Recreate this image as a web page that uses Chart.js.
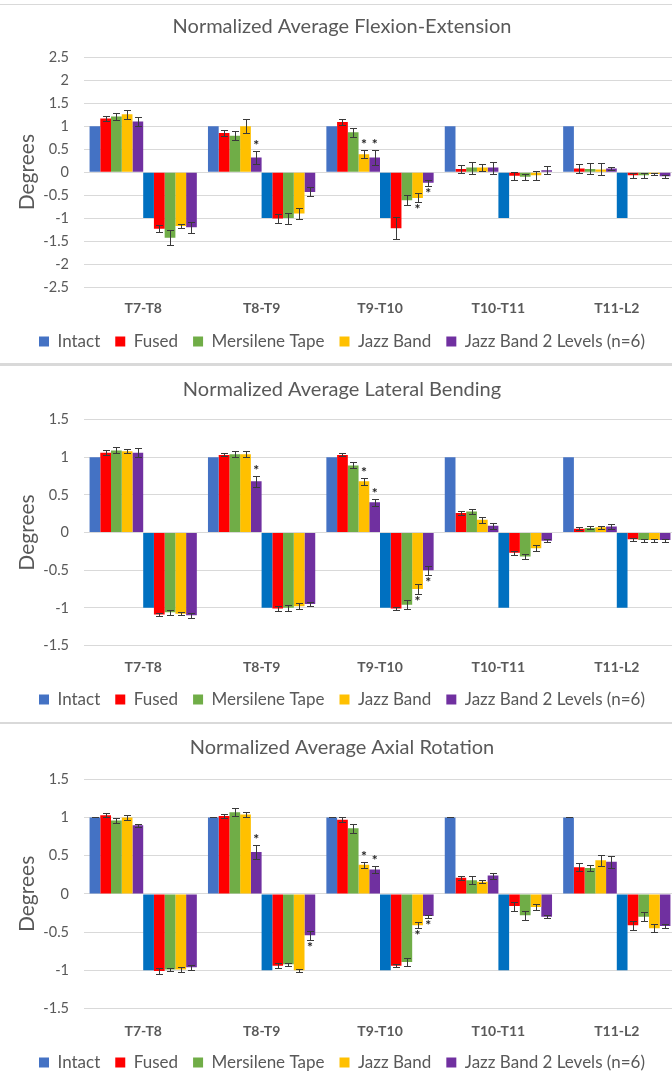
<!DOCTYPE html>
<html><head><meta charset="utf-8">
<script src="https://cdn.jsdelivr.net/npm/chart.js@4"></script>
<style>
html,body{margin:0;padding:0;background:#fff;overflow:hidden;width:672px;height:1074px;}
#wrap{position:relative;width:672px;height:1074px;overflow:hidden;background:#fff;}
canvas{position:absolute;left:0;}
.sep{position:absolute;left:0;width:672px;background:#d9d9d9;}
</style></head><body>
<div id="wrap">
<canvas id="c1" width="680" height="360" style="top:0px"></canvas>
<canvas id="c2" width="680" height="352" style="top:366px"></canvas>
<canvas id="c3" width="680" height="356" style="top:725px"></canvas>
<div class="sep" style="top:4px;height:1px"></div>
<div class="sep" style="top:363px;height:3px"></div>
<div class="sep" style="top:722px;height:2px"></div>
</div>
<script>
// ---------- data ----------
const categories = ['T7-T8', 'T8-T9', 'T9-T10', 'T10-T11', 'T11-L2'];
const seriesNames = ['Intact', 'Fused', 'Mersilene Tape', 'Jazz Band', 'Jazz Band 2 Levels (n=6)'];
const posColors = ['#4472C4', '#FF0000', '#70AD47', '#FFC000', '#7030A0'];
const negColors = ['#0070C0', '#FF0000', '#70AD47', '#FFC000', '#7030A0'];

// Flexion-Extension (rows = series, cols = categories)
const FE_POS = [
  [1, 1, 1, 1, 1],
  [1.17, 0.85, 1.09, 0.07, 0.08],
  [1.21, 0.79, 0.87, 0.10, 0.07],
  [1.26, 1.00, 0.39, 0.10, 0.06],
  [1.10, 0.32, 0.32, 0.10, 0.08]
];
const FE_POS_ERR = [
  [null, null, null, null, null],
  [0.06, 0.06, 0.07, 0.08, 0.09],
  [0.08, 0.10, 0.10, 0.13, 0.12],
  [0.10, 0.15, 0.09, 0.08, 0.13],
  [0.10, 0.14, 0.17, 0.13, 0.04]
];
const FE_NEG = [
  [-1, -1, -1, -1, -1],
  [-1.23, -1.01, -1.22, -0.08, -0.07],
  [-1.43, -1.00, -0.61, -0.10, -0.07],
  [-1.17, -0.90, -0.56, -0.07, -0.04],
  [-1.20, -0.43, -0.23, 0.04, -0.09]
];
const FE_NEG_ERR = [
  [null, null, null, null, null],
  [0.07, 0.10, 0.24, 0.08, 0.05],
  [0.16, 0.12, 0.11, 0.07, 0.05],
  [0.05, 0.13, 0.10, 0.10, 0.03],
  [0.12, 0.10, 0.07, 0.09, 0.03]
];
const FE_STARS = [[4, 1], [3, 2], [4, 2], [8, 2], [9, 2]];
const FE_TICKS = [-2.5, -2, -1.5, -1, -0.5, 0, 0.5, 1, 1.5, 2, 2.5];

// Lateral Bending
const LB_POS = [
  [1, 1, 1, 1, 1],
  [1.06, 1.03, 1.03, 0.26, 0.05],
  [1.09, 1.04, 0.89, 0.28, 0.06],
  [1.08, 1.04, 0.68, 0.17, 0.07],
  [1.06, 0.68, 0.40, 0.09, 0.08]
];
const LB_POS_ERR = [
  [null, null, null, null, null],
  [0.03, 0.02, 0.02, 0.03, 0.02],
  [0.04, 0.04, 0.04, 0.03, 0.02],
  [0.03, 0.04, 0.05, 0.04, 0.02],
  [0.06, 0.07, 0.05, 0.04, 0.03]
];
const LB_NEG = [
  [-1, -1, -1, -1, -1],
  [-1.09, -1.01, -1.01, -0.27, -0.09],
  [-1.06, -1.00, -0.96, -0.32, -0.10],
  [-1.08, -0.98, -0.75, -0.21, -0.10],
  [-1.10, -0.95, -0.50, -0.11, -0.10]
];
const LB_NEG_ERR = [
  [null, null, null, null, null],
  [0.02, 0.03, 0.02, 0.03, 0.02],
  [0.03, 0.04, 0.06, 0.03, 0.02],
  [0.02, 0.04, 0.07, 0.04, 0.02],
  [0.03, 0.03, 0.06, 0.02, 0.02]
];
const LB_STARS = [[4, 1], [3, 2], [4, 2], [8, 2], [9, 2]];
const LB_TICKS = [-1.5, -1, -0.5, 0, 0.5, 1, 1.5];

// Axial Rotation
const AR_POS = [
  [1, 1, 1, 1, 1],
  [1.03, 1.02, 0.97, 0.21, 0.35],
  [0.96, 1.07, 0.86, 0.18, 0.34],
  [1.00, 1.04, 0.38, 0.16, 0.44],
  [0.90, 0.55, 0.32, 0.24, 0.42]
];
const AR_POS_ERR = [
  [0, 0, 0, 0, 0],
  [0.03, 0.03, 0.03, 0.03, 0.05],
  [0.03, 0.05, 0.06, 0.05, 0.04],
  [0.03, 0.03, 0.04, 0.02, 0.07],
  [0.02, 0.09, 0.05, 0.04, 0.08]
];
const AR_NEG = [
  [-1, -1, -1, -1, -1],
  [-1.01, -0.94, -0.94, -0.16, -0.41],
  [-0.99, -0.92, -0.89, -0.28, -0.30],
  [-0.99, -1.00, -0.41, -0.17, -0.45],
  [-0.96, -0.54, -0.29, -0.30, -0.42]
];
const AR_NEG_ERR = [
  [null, null, null, null, null],
  [0.04, 0.03, 0.02, 0.06, 0.06],
  [0.02, 0.02, 0.05, 0.06, 0.06],
  [0.03, 0.02, 0.04, 0.04, 0.05],
  [0.03, 0.06, 0.02, 0.02, 0.03]
];
const AR_STARS = [[4, 1], [3, 2], [4, 2], [9, 1], [8, 2], [9, 2]];
const AR_TICKS = [-1.5, -1, -0.5, 0, 0.5, 1, 1.5];

// ---------- rendering ----------
const FONT = 'Lato';
const TXT = '#595959';

const errorBarPlugin = {
  id: 'errbars',
  afterDatasetsDraw(chart, args, opts) {
    const ctx = chart.ctx;
    const ys = chart.scales.y;
    ctx.save();
    ctx.strokeStyle = '#3a3a3a';
    ctx.lineWidth = 1;
    chart.data.datasets.forEach((ds, i) => {
      if (!ds.errors) return;
      const meta = chart.getDatasetMeta(i);
      meta.data.forEach((bar, j) => {
        const e = ds.errors[j];
        if (e === null || e === undefined) return;
        const v = ds.data[j];
        const x = Math.round(bar.x) + 0.5;
        const y1 = Math.round(ys.getPixelForValue(v + e)) + 0.5;
        const y2 = Math.round(ys.getPixelForValue(v - e)) + 0.5;
        ctx.beginPath();
        ctx.moveTo(x, y1); ctx.lineTo(x, y2);
        ctx.moveTo(x - 3.5, y1); ctx.lineTo(x + 3.5, y1);
        ctx.moveTo(x - 3.5, y2); ctx.lineTo(x + 3.5, y2);
        ctx.stroke();
      });
    });
    ctx.fillStyle = '#222';
    ctx.font = 'bold 14px ' + FONT;
    ctx.textAlign = 'center';
    ctx.textBaseline = 'alphabetic';
    (opts.stars || []).forEach(([di, ci]) => {
      const ds = chart.data.datasets[di];
      const bar = chart.getDatasetMeta(di).data[ci];
      const v = ds.data[ci];
      const e = ds.errors[ci] || 0;
      let yb;
      if (v >= 0) yb = ys.getPixelForValue(v + e) - 1;
      else yb = ys.getPixelForValue(v - e) + 12;
      ctx.fillText('*', bar.x, yb);
    });
    ctx.restore();
  }
};

function makeChart(id, title, pos, posErr, neg, negErr, ticks, stars, lay) {
  const datasets = [];
  for (let s = 0; s < 5; s++) {
    datasets.push({ label: seriesNames[s], data: pos[s], errors: posErr[s],
      backgroundColor: posColors[s], borderWidth: 0 });
  }
  for (let s = 0; s < 5; s++) {
    datasets.push({ label: seriesNames[s] + ' ', data: neg[s], errors: negErr[s],
      backgroundColor: negColors[s], borderWidth: 0 });
  }
  return new Chart(document.getElementById(id), {
    type: 'bar',
    data: { labels: categories, datasets },
    plugins: [errorBarPlugin],
    options: {
      responsive: false,
      animation: false,
      layout: { padding: { left: 8, right: 4, top: 0, bottom: 0 } },
      datasets: { bar: { categoryPercentage: 0.906, barPercentage: 1.0 } },
      plugins: {
        errbars: { stars },
        tooltip: { enabled: false },
        title: {
          display: true, text: title, color: TXT,
          font: { family: FONT, size: 20, weight: 'normal' },
          padding: { top: lay.tTop, bottom: lay.tBot }
        },
        legend: {
          display: true, position: 'bottom',
          labels: {
            color: TXT, boxWidth: 10, boxHeight: 10, padding: 15,
            font: { family: FONT, size: 17 },
            filter: (item) => item.datasetIndex < 5
          }
        }
      },
      scales: {
        x: {
          grid: { display: false, drawTicks: false },
          border: { display: false },
          ticks: { color: TXT, padding: lay.xPad, font: { family: FONT, size: 14, weight: 'bold' } },
          afterFit: (s) => { s.height = lay.xH; }
        },
        y: {
          min: ticks[0], max: ticks[ticks.length - 1],
          afterBuildTicks: (s) => { s.ticks = ticks.map(v => ({ value: v })); },
          grid: { color: '#d9d9d9', lineWidth: 1, drawTicks: false },
          border: { display: false },
          ticks: { color: TXT, padding: 15, font: { family: FONT, size: 14.5 },
            callback: (v) => String(v) },
          title: { display: true, text: 'Degrees', color: TXT,
            font: { family: FONT, size: 21 }, padding: { top: 6.4, bottom: 0 } },
          afterFit: (s) => { s.width = 76; }
        }
      }
    }
  });
}

makeChart('c1', 'Normalized Average Flexion-Extension', FE_POS, FE_POS_ERR, FE_NEG, FE_NEG_ERR, FE_TICKS, FE_STARS,
  { tTop: 15, tBot: 18.3, xPad: 12.6, xH: 31 });
makeChart('c2', 'Normalized Average Lateral Bending', LB_POS, LB_POS_ERR, LB_NEG, LB_NEG_ERR, LB_TICKS, LB_STARS,
  { tTop: 12, tBot: 17.5, xPad: 13.8, xH: 30.5 });
makeChart('c3', 'Normalized Average Axial Rotation', AR_POS, AR_POS_ERR, AR_NEG, AR_NEG_ERR, AR_TICKS, AR_STARS,
  { tTop: 11, tBot: 19.3, xPad: 14.3, xH: 30.5 });
</script>
</body></html>
